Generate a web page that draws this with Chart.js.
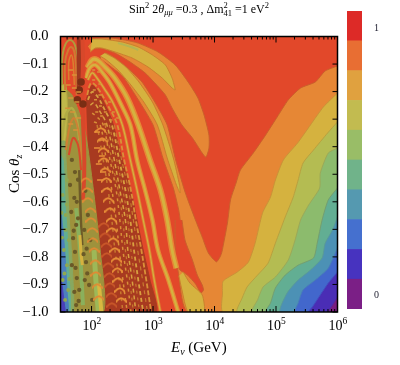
<!DOCTYPE html>
<html>
<head>
<meta charset="utf-8">
<script src="https://cdn.jsdelivr.net/npm/chart.js@4"></script>
<style>
  body { margin: 0; background: #fff; }
  canvas { position: absolute; top: 0; }
</style>
</head>
<body>
<canvas id="plot" width="400" height="365" style="left:0"></canvas>
<canvas id="bar" width="60" height="365" style="left:340px"></canvas>
<script>
// ===== Data: all contours are [log10(E / GeV), cos theta] =====
const plotBox = [[1.495,0],[6,0],[6,-1],[1.495,-1]];

const orangeMain = [[6,-.107],[5.80,-.125],[5.64,-.165],[5.40,-.187],[5.20,-.230],[5.02,-.292],[4.83,-.358],[4.63,-.423],[4.42,-.485],[4.35,-.532],[4.26,-.593],[4.21,-.677],[4.12,-.782],[4.09,-.800],[4.03,-.818],[3.90,-.786],[3.80,-.728],[3.69,-.666],[3.52,-.564],[3.36,-.441],[3.23,-.321],[3.03,-.238],[2.82,-.165],[2.59,-.115],[2.38,-.078],[2.22,-.060],[2.14,-.078],[2.30,-.107],[2.50,-.143],[2.71,-.212],[3.00,-.321],[3.16,-.441],[3.33,-.550],[3.41,-.622],[3.44,-.666],[3.39,-.818],[3.41,-.855],[3.57,-1],[6,-1]];
const yellowLevel = [[6,-.205],[5.77,-.256],[5.56,-.321],[5.35,-.387],[5.12,-.448],[4.99,-.521],[4.91,-.583],[4.78,-.641],[4.66,-.750],[4.55,-.819],[4.37,-.855],[4.14,-.888],[4.13,-.931],[4.14,-1],[6,-1]];
const oliveLevel = [[6,-.310],[5.84,-.350],[5.61,-.412],[5.44,-.459],[5.36,-.521],[5.28,-.583],[5.15,-.655],[4.99,-.750],[4.87,-.823],[4.70,-.866],[4.53,-.909],[4.45,-.949],[4.37,-1],[6,-1]];
const greenLevel = [[6,-.405],[5.85,-.423],[5.72,-.496],[5.71,-.550],[5.53,-.612],[5.40,-.666],[5.31,-.739],[5.20,-.811],[4.99,-.873],[4.79,-.909],[4.70,-.956],[4.61,-1],[6,-1]];
const tealLevel = [[6,-.550],[5.85,-.593],[5.75,-.666],[5.67,-.750],[5.61,-.804],[5.36,-.830],[5.15,-.866],[4.99,-.913],[4.91,-.968],[4.83,-1],[6,-1]];
const skyLevel = [[6,-.655],[5.92,-.702],[5.80,-.750],[5.75,-.804],[5.56,-.848],[5.36,-.884],[5.18,-.931],[5.07,-1],[6,-1]];
const blueLevel = [[6,-.768],[5.85,-.841],[5.64,-.884],[5.44,-.920],[5.36,-.968],[5.31,-1],[6,-1]];
const indigoLevel = [[6,-.855],[5.85,-.895],[5.72,-.938],[5.59,-.982],[5.53,-1],[6,-1]];
const purpleLevel = [[6,-.946],[5.92,-.975],[5.85,-1],[6,-1]];

const orangeTongue = [[1.94,-.035],[2.06,-.009],[2.30,-.005],[2.55,-.013],[2.76,-.024],[3.08,-.056],[3.36,-.103],[3.57,-.165],[3.73,-.223],[3.83,-.285],[3.91,-.358],[3.91,-.405],[3.86,-.438],[3.80,-.423],[3.64,-.368],[3.47,-.321],[3.31,-.260],[3.20,-.212],[3.03,-.169],[2.87,-.132],[2.63,-.093],[2.38,-.060],[2.14,-.042],[1.98,-.049]];
const yellowTongue = [[2.01,-.009],[2.17,-.009],[2.50,-.020],[2.76,-.038],[2.99,-.067],[3.20,-.103],[3.31,-.151],[3.36,-.194],[3.31,-.187],[3.15,-.151],[2.92,-.111],[2.66,-.078],[2.38,-.056],[2.17,-.042],[2.06,-.042],[1.98,-.056]];
const oliveStreak = [[2.43,-.024],[2.64,-.038],[2.76,-.049]];
const yellowCore = [[2.22,-.060],[2.37,-.078],[2.56,-.111],[2.77,-.165],[2.99,-.238],[3.16,-.321],[3.33,-.441],[3.43,-.539],[3.44,-.568],[3.38,-.539],[3.23,-.441],[3.07,-.321],[2.85,-.238],[2.64,-.176],[2.43,-.122],[2.24,-.085],[2.14,-.071]];
const redWedge = [[3.47,-.666],[3.52,-.739],[3.64,-.811],[3.72,-.866],[3.80,-.902],[3.82,-.920],[3.78,-.931],[3.69,-.898],[3.56,-.866],[3.44,-.848],[3.38,-.818],[3.36,-.757],[3.36,-.666]];
const yellowFoot = [[3.49,-.855],[3.60,-.895],[3.80,-.938],[3.83,-1],[3.57,-1],[3.47,-.920],[3.42,-.869]];

const darkBand = [[1.91,-.230],[2.01,-.176],[2.14,-.212],[2.33,-.303],[2.50,-.448],[2.64,-.557],[2.74,-.666],[2.84,-.775],[2.95,-.884],[3.05,-1],[2.19,-1],[2.14,-.775],[2.04,-.557],[1.94,-.412]];

const stripe2 = [[1.93,-.114],[2.01,-.085],[2.09,-.085],[2.22,-.111],[2.38,-.151],[2.58,-.223],[2.76,-.321],[2.95,-.448],[3.12,-.557],[3.23,-.666],[3.31,-.775],[3.38,-.841]];
const stripe3 = [[1.91,-.151],[1.97,-.114],[2.06,-.103],[2.17,-.129],[2.30,-.169],[2.46,-.238],[2.63,-.321],[2.74,-.448],[2.87,-.557],[2.99,-.666],[3.08,-.775],[3.25,-.884],[3.41,-1]];
const stripe4 = [[1.94,-.158],[2.01,-.132],[2.09,-.151],[2.20,-.187],[2.35,-.241],[2.50,-.321],[2.63,-.448],[2.74,-.557],[2.84,-.666],[2.94,-.775],[3.02,-.884],[3.12,-1]];
const stripe5 = [[1.93,-.212],[1.98,-.172],[2.04,-.172],[2.14,-.201],[2.27,-.252],[2.42,-.321],[2.53,-.448],[2.64,-.557],[2.72,-.666],[2.81,-.775],[2.89,-.884],[2.97,-1]];
const stripe5b = [[2.37,-.321],[2.49,-.448],[2.60,-.557],[2.68,-.666],[2.75,-.775],[2.83,-.884],[2.91,-1]];
const stripe6 = [[1.94,-.230],[2.01,-.201],[2.09,-.216],[2.20,-.260],[2.33,-.321],[2.45,-.448],[2.55,-.557],[2.63,-.666],[2.69,-.775],[2.76,-.884],[2.84,-1]];
const stripe7 = [[1.98,-.249],[2.04,-.241],[2.14,-.274],[2.25,-.321],[2.37,-.448],[2.46,-.557],[2.55,-.666],[2.59,-.775],[2.66,-.884],[2.72,-1]];
const stripe7b = [[2.29,-.321],[2.41,-.448],[2.51,-.557],[2.59,-.666],[2.64,-.775],[2.71,-.884],[2.78,-1]];
const stripe8 = [[2.01,-.278],[2.09,-.292],[2.19,-.321],[2.30,-.448],[2.40,-.557],[2.46,-.666],[2.51,-.775],[2.58,-.884],[2.64,-1]];
const stripe8b = [[2.22,-.321],[2.33,-.448],[2.43,-.557],[2.51,-.666],[2.55,-.775],[2.62,-.884],[2.68,-1]];
const stripe9 = [[2.04,-.310],[2.14,-.321],[2.24,-.448],[2.33,-.557],[2.40,-.666],[2.45,-.775],[2.51,-.884],[2.58,-1]];
const stripe10 = [[2.09,-.321],[2.19,-.448],[2.27,-.557],[2.33,-.666],[2.38,-.775],[2.45,-.884],[2.51,-1]];

// left side, fast oscillation zone
const leftOlive = [[1.495,-.176],[1.68,-.212],[1.89,-.339],[2.01,-.521],[2.14,-.775],[2.19,-1],[1.495,-1]];
const leftYellow = [[1.495,-.176],[1.58,-.176],[1.61,-.267],[1.58,-.376],[1.495,-.398]];
const leftGreen = [[1.495,-.380],[1.56,-.380],[1.60,-.510],[1.64,-.670],[1.68,-.810],[1.70,-1],[1.495,-1]];
const leftTeal = [[1.495,-.430],[1.54,-.450],[1.57,-.600],[1.60,-.700],[1.63,-.850],[1.65,-1],[1.495,-1]];
const leftBlue = [[1.495,-.620],[1.53,-.690],[1.57,-.800],[1.60,-.920],[1.62,-1],[1.495,-1]];
const leftIndigo = [[1.495,-.850],[1.52,-.900],[1.56,-.975],[1.57,-1],[1.495,-1]];

const loopOuter = [[1.52,-.176],[1.52,-.085],[1.57,-.031],[1.65,-.013],[1.73,-.031],[1.78,-.085],[1.80,-.158]];
const loopInner = [[1.57,-.194],[1.57,-.093],[1.62,-.049],[1.67,-.038],[1.72,-.056],[1.75,-.122],[1.76,-.212]];
const loopCore = [[1.63,-.158],[1.63,-.093],[1.67,-.067],[1.70,-.093],[1.72,-.176]];
const archOlive = [[1.52,-.376],[1.58,-.285],[1.68,-.260],[1.76,-.303],[1.80,-.376]];
const archOrange = [[1.58,-.412],[1.65,-.321],[1.72,-.296],[1.80,-.358],[1.84,-.448]];
const archRed = [[1.63,-.430],[1.70,-.368],[1.78,-.394],[1.83,-.485]];
const darkChannel = [[1.80,0],[1.80,-.12],[1.80,-.21]];
const redChannel = [[1.85,0],[1.86,-.085],[1.85,-.194],[1.86,-.303],[1.88,-.412],[1.88,-.503],[1.86,-.593]];
const darkSlant = [[1.80,-.485],[1.81,-.557],[1.83,-.684],[1.85,-.757]];
const greenSlant = [[1.75,-.623],[1.80,-.739],[1.83,-.848],[1.86,-.975]];
const yellowSlant = [[1.81,-.721],[1.83,-.790],[1.85,-.830]];
const greenColumn = [[2.04,-.775],[2.07,-.884],[2.11,-1]];
const yellowColumn = [[2.12,-.897],[2.16,-1]];

const darkBlob = [[1.80,-.194],[1.77,-.230],[1.83,-.165],[1.86,-.245]];
const chevronsA = [[1.91,-.521],[1.93,-.557],[1.94,-.593],[1.98,-.630],[1.99,-.666],[2.01,-.702],[2.02,-.739],[2.04,-.775],[2.06,-.819],[2.07,-.862],[2.09,-.906],[2.12,-.949]];
const chevronsB = [[2.15,-.339],[2.17,-.376],[2.19,-.412],[2.20,-.448],[2.22,-.485],[2.24,-.521],[2.25,-.557],[2.27,-.593],[2.30,-.630],[2.32,-.666],[2.33,-.702],[2.35,-.739],[2.38,-.775],[2.40,-.811],[2.42,-.848],[2.43,-.884],[2.46,-.920],[2.48,-.956]];
const chevronsC = [[2.20,-.684],[2.22,-.721],[2.24,-.757],[2.25,-.793],[2.27,-.830],[2.29,-.866],[2.30,-.902],[2.32,-.938],[2.33,-.975]];
const ladderA = [[1.62,-.122],[1.68,-.140],[1.58,-.176],[1.68,-.187],[1.75,-.201],[1.62,-.223],[1.72,-.238],[1.57,-.260],[1.65,-.274],[1.75,-.296],[1.62,-.318],[1.70,-.339]];
const ladderB = [[2.04,-.347],[2.11,-.376],[2.04,-.405],[2.12,-.434],[2.07,-.463],[2.14,-.492],[2.09,-.521]];
const hatchTop = [[2.01,-.122],[2.09,-.129],[2.01,-.158],[2.11,-.172],[2.02,-.194],[2.11,-.212],[2.04,-.230],[2.12,-.252],[2.06,-.274],[2.14,-.289],[2.20,-.274],[2.20,-.318],[2.29,-.303],[2.27,-.238],[2.33,-.274],[2.40,-.296]];
const brownSpecks = [[1.68,-.448],[1.73,-.492],[1.65,-.539],[1.72,-.586],[1.67,-.637],[1.75,-.684],[1.70,-.732],[1.73,-.782],[1.68,-.830],[1.76,-.877],[1.72,-.927],[1.75,-.975],[1.94,-.648],[1.98,-.739],[1.91,-.819],[1.96,-.902],[2.01,-.956],[1.88,-.702],[1.89,-.884],[1.80,-.920],[1.78,-.520],[1.76,-.600],[1.78,-.660],[1.71,-.705],[1.90,-.560],[1.92,-.770],[1.87,-.790],[1.93,-.860],[1.74,-.840],[1.79,-.960]];
const oliveSpecks = [[1.58,-.702],[1.55,-.775],[1.60,-.830],[1.53,-.884],[1.62,-.920],[1.57,-.956],[1.63,-.739],[1.58,-.648],[1.53,-.575],[1.60,-.521],[1.51,-.640],[1.56,-.860],[1.60,-.610],[1.64,-.880],[1.52,-.730]];

// axis ticks and colour bar
const yTickValues = [-1,-.9,-.8,-.7,-.6,-.5,-.4,-.3,-.2,-.1,0];
const xMajorTicks = [100,1000,10000,100000,1000000];
const xExponents = ['2','3','4','5','6'];
const xMinorSteps = [2,3,4,5,6,7,8,9];
const barSteps = [.1,.1,.1,.1,.1,.1,.1,.1,.1,.1];
const barColors = ['#7B1F86','#4733BF','#4570CF','#5599B0','#70B38A','#99BD67','#C2BB50','#E0A13F','#E86E33','#DD2A27'];
const barTickValues = [.047,.943];
const barTickLabels = ['0','1'];

// ===== Layers =====
const SERIF = '"Liberation Serif"';
const datasets = [];

function toPoints(pts) {
  return pts.map(p => ({ x: Math.pow(10, p[0]), y: p[1] }));
}
function addArea(pts, color, edge) {
  datasets.push({ data: toPoints(pts), areaColor: color, showLine: true, tension: 0.2, borderColor: edge, borderWidth: 1, pointRadius: 0 });
}
function addLine(pts, color, width, dash) {
  datasets.push({ data: toPoints(pts), showLine: true, tension: 0.35, borderColor: color, borderWidth: width, borderDash: dash || [], pointRadius: 0 });
}
function addMarks(pts, style, color, radius) {
  datasets.push({ data: toPoints(pts), showLine: false, pointStyle: style, pointRadius: radius, backgroundColor: color, borderColor: color, borderWidth: 1.5 });
}
function chevron(color) {
  const c = document.createElement('canvas');
  c.width = 11; c.height = 6;
  const g = c.getContext('2d');
  g.strokeStyle = color; g.lineWidth = 2;
  g.beginPath(); g.moveTo(0, 5.5); g.quadraticCurveTo(5.5, -3, 11, 5.5); g.stroke();
  return c;
}

addArea(plotBox, '#E2482A', '#E2482A');
addArea(orangeMain, '#E68735', '#C9602C');
addArea(yellowLevel, '#D5B23F', '#C99238');
addArea(oliveLevel, '#B4BC52', '#B8A040');
addArea(greenLevel, '#8CBB6D', '#9CA858');
addArea(tealLevel, '#62AE93', '#749E70');
addArea(skyLevel, '#4C91B5', '#5A9A98');
addArea(blueLevel, '#4267CC', '#4A7CB8');
addArea(indigoLevel, '#4A2DB5', '#4350C0');
addArea(purpleLevel, '#7A1C80', '#5A289C');
addArea(redWedge, '#E2482A', '#C9602C');
addArea(yellowFoot, '#D5B23F', '#C9802E');
addArea(orangeTongue, '#E68735', '#C9602C');
addArea(yellowTongue, '#D5B23F', '#C9802E');
addLine(oliveStreak, '#B4B452', 2);
addArea(yellowCore, '#D5B23F', '#C9802E');

addArea(darkBand, '#A83A20', '#A83A20');
addArea(leftOlive, '#9E923C', '#9E923C');
addArea(leftYellow, '#C0B84A', '#B0A840');
addArea(leftGreen, '#88A860', '#88A860');
addArea(leftTeal, '#62AE93', '#62AE93');
addArea(leftBlue, '#4C7FBE', '#4C7FBE');
addArea(leftIndigo, '#4A40BA', '#4A40BA');

// main stripes, orange flank under yellow core
addLine(stripe2, '#E68735', 6);
addLine(stripe2, '#D5B23F', 3);
addLine(stripe3, '#E68735', 4.5);
addLine(stripe3, '#D5B23F', 2.2);
addLine(stripe4, '#DD7A30', 3);
addLine(stripe4, '#D5B23F', 1.2);
addLine(stripe5, '#D89038', 1.8, [5, 2]);
addLine(stripe5b, '#C87A30', 1.2, [4, 4]);
addLine(stripe6, '#D8A040', 1.8, [4, 3]);
addLine(stripe7, '#D8A040', 1.5, [4, 3]);
addLine(stripe7b, '#C87A30', 1.2, [3, 4]);
addLine(stripe8, '#D89038', 1.5, [3, 4]);
addLine(stripe8b, '#C87A30', 1.2, [3, 4]);
addLine(stripe9, '#D89038', 1.5, [3, 4]);
addLine(stripe10, '#C87A30', 1.5, [3, 4]);

addLine(loopOuter, '#AE9C3C', 2);
addLine(loopInner, '#CF7A32', 2);
addLine(loopCore, '#D8802F', 1.5);
addLine(archOlive, '#B0AC44', 2.5);
addLine(archOrange, '#CF8034', 2);
addLine(archRed, '#D8482A', 2);
addLine(darkChannel, '#9E3820', 5);
addLine(redChannel, '#D8482A', 4);
addLine(darkSlant, '#6E5A28', 2.5);
addLine(greenSlant, '#8AB05C', 4);
addLine(yellowSlant, '#D5B23F', 3);
addLine(greenColumn, '#9DB858', 5);
addLine(yellowColumn, '#D8B840', 4);

addMarks(brownSpecks, 'circle', '#6B5A28', 1.4);
addMarks(oliveSpecks, 'circle', '#90A850', 1.2);
addMarks(darkBlob, 'circle', '#7A2E14', 3);
addMarks(ladderA, 'dash', '#D89038', 5);
addMarks(ladderB, 'dash', '#E89038', 6);
addMarks(hatchTop, 'dash', '#D89038', 3);
addMarks(chevronsC, chevron('#C9582A'), '#C9582A', 3);
addMarks(chevronsA, chevron('#E08A34'), '#E08A34', 3);
addMarks(chevronsB, chevron('#E89038'), '#E89038', 3);

// chart.js paints the first dataset last
datasets.reverse();

// ===== Plugins =====
const areaFill = {
  id: 'areaFill',
  beforeDatasetDraw(chart, args) {
    const color = args.meta.controller.getDataset().areaColor;
    if (!color) return;
    const a = chart.chartArea, ctx = chart.ctx;
    ctx.save();
    ctx.beginPath();
    ctx.rect(a.left, a.top, a.right - a.left, a.bottom - a.top);
    ctx.clip();
    args.meta.dataset.updateControlPoints(a);
    ctx.beginPath();
    args.meta.dataset.path(ctx);
    ctx.closePath();
    ctx.fillStyle = color;
    ctx.fill();
    ctx.restore();
  }
};

function drawRuns(ctx, runs, x, y) {
  let pos = x;
  runs.forEach(r => {
    ctx.font = (r.italic ? 'italic ' : '') + r.size + 'px ' + SERIF;
    ctx.fillText(r.text, pos, y + (r.dy || 0));
    if (!r.hold) pos += ctx.measureText(r.text).width;
  });
}

const frameAndText = {
  id: 'frameAndText',
  afterDraw(chart) {
    const ctx = chart.ctx, a = chart.chartArea;
    const xs = chart.scales.x, ys = chart.scales.y;
    ctx.save();
    ctx.strokeStyle = '#000';
    ctx.fillStyle = '#000';
    ctx.textBaseline = 'alphabetic';
    ctx.textAlign = 'left';

    ctx.lineWidth = 1;
    ctx.beginPath();
    xs.ticks.forEach(t => {
      const px = xs.getPixelForValue(t.value);
      const len = xMajorTicks.includes(t.value) ? 6 : 3;
      ctx.moveTo(px, a.bottom); ctx.lineTo(px, a.bottom - len);
      ctx.moveTo(px, a.top); ctx.lineTo(px, a.top + len);
    });
    ys.ticks.forEach(t => {
      const py = ys.getPixelForValue(t.value);
      ctx.moveTo(a.left, py); ctx.lineTo(a.left + 5, py);
      ctx.moveTo(a.right, py); ctx.lineTo(a.right - 5, py);
    });
    ctx.stroke();
    ctx.lineWidth = 1.5;
    ctx.strokeRect(a.left, a.top, a.right - a.left, a.bottom - a.top);

    // x tick labels with raised exponent
    xMajorTicks.forEach((v, i) => {
      drawRuns(ctx, [
        { text: '10', size: 14 },
        { text: xExponents[i], size: 9.5, dy: -6 }
      ], xs.getPixelForValue(v) - 9, 330);
    });

    // title
    drawRuns(ctx, [
      { text: 'Sin', size: 12 },
      { text: '2', size: 8.5, dy: -5 },
      { text: ' 2', size: 12 },
      { text: 'θ', size: 12, italic: true },
      { text: 'μμ', size: 8.5, italic: true, dy: 2.5 },
      { text: ' =0.3 , Δm', size: 12 },
      { text: '2', size: 8.5, dy: -5, hold: true },
      { text: '41', size: 8.5, dy: 3 },
      { text: ' =1 eV', size: 12 },
      { text: '2', size: 8.5, dy: -5 }
    ], 129, 12.5);

    // axis titles
    drawRuns(ctx, [
      { text: 'E', size: 15, italic: true },
      { text: 'ν', size: 10, italic: true, dy: 3 },
      { text: ' (GeV)', size: 15 }
    ], 171, 352);
    ctx.translate(19, 193);
    ctx.rotate(-Math.PI / 2);
    drawRuns(ctx, [
      { text: 'Cos ', size: 15 },
      { text: 'θ', size: 15, italic: true },
      { text: 'z', size: 10, italic: true, dy: 3 }
    ], 0, 0);
    ctx.restore();
  }
};

// ===== Charts =====
new Chart(document.getElementById('plot'), {
  type: 'scatter',
  data: { datasets },
  options: {
    responsive: false,
    animation: false,
    layout: { padding: { top: 36.5, right: 62.5 } },
    plugins: { legend: { display: false }, tooltip: { enabled: false } },
    scales: {
      x: {
        type: 'logarithmic',
        min: Math.pow(10, 1.495),
        max: 1000000,
        grid: { display: false },
        border: { display: false },
        ticks: { display: false },
        afterBuildTicks(scale) {
          const list = [];
          [10].concat(xMajorTicks).forEach(m => {
            if (m >= 100) list.push({ value: m, major: true });
            if (m < 1000000) xMinorSteps.forEach(s => {
              if (m * s > scale.min) list.push({ value: m * s });
            });
          });
          scale.ticks = list;
        },
        afterFit(scale) { scale.height = 53; }
      },
      y: {
        min: -1,
        max: 0,
        grid: { display: false },
        border: { display: false },
        afterBuildTicks(scale) { scale.ticks = yTickValues.map(v => ({ value: v })); },
        ticks: {
          color: '#000',
          padding: 4,
          font: { family: SERIF, size: 14.5 },
          callback: v => (v < 0 ? '−' : '') + Math.abs(v).toFixed(1)
        },
        afterFit(scale) { scale.width = 60.5; }
      }
    }
  },
  plugins: [areaFill, frameAndText]
});

new Chart(document.getElementById('bar'), {
  type: 'bar',
  data: {
    labels: [''],
    datasets: barSteps.map((v, i) => ({ data: [v], backgroundColor: barColors[i], categoryPercentage: 1, barPercentage: 1 }))
  },
  options: {
    responsive: false,
    animation: false,
    layout: { padding: { left: 7, top: 11, bottom: 56 } },
    plugins: { legend: { display: false }, tooltip: { enabled: false } },
    scales: {
      x: { stacked: true, display: false },
      y: {
        stacked: true,
        position: 'right',
        min: 0,
        max: 1,
        grid: { display: false },
        border: { display: false },
        afterBuildTicks(scale) { scale.ticks = barTickValues.map(v => ({ value: v })); },
        ticks: {
          color: '#223',
          padding: 4,
          font: { family: SERIF, size: 10 },
          callback: v => barTickLabels[barTickValues.indexOf(v)]
        },
        afterFit(scale) { scale.width = 38; }
      }
    }
  }
});
</script>
</body>
</html>
